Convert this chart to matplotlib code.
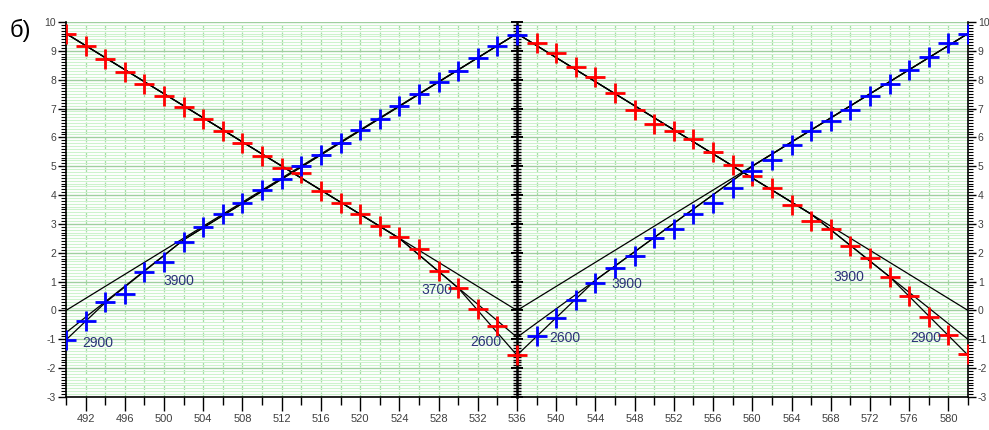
import matplotlib
matplotlib.use("Agg")
import matplotlib.pyplot as plt
from matplotlib.ticker import MultipleLocator, FormatStrFormatter

plt.rcParams["axes.unicode_minus"] = False
NARROW = ["Liberation Sans Narrow", "Liberation Sans", "DejaVu Sans"]

# Measured points: left half (490..536) and right half (538..582)
x_left = [490, 492, 494, 496, 498, 500, 502, 504, 506, 508, 510, 512,
          514, 516, 518, 520, 522, 524, 526, 528, 530, 532, 534, 536]
red_left = [9.58, 9.17, 8.72, 8.27, 7.85, 7.43, 7.05, 6.64, 6.22, 5.81, 5.36, 4.94,
            4.77, 4.14, 3.73, 3.34, 2.93, 2.55, 2.13, 1.37, 0.78, 0.05, -0.54, -1.54]
blue_left = [-1.02, -0.36, 0.29, 0.57, 1.33, 1.68, 2.37, 2.89, 3.34, 3.73, 4.17, 4.56,
             5.00, 5.39, 5.81, 6.26, 6.64, 7.09, 7.50, 7.92, 8.30, 8.75, 9.17, 9.55]

x_right = [538, 540, 542, 544, 546, 548, 550, 552, 554, 556, 558, 560,
           562, 564, 566, 568, 570, 572, 574, 576, 578, 580, 582]
red_right = [9.27, 8.93, 8.44, 8.10, 7.54, 6.95, 6.46, 6.22, 5.94, 5.49, 5.04, 4.65,
             4.25, 3.66, 3.10, 2.83, 2.24, 1.82, 1.16, 0.50, -0.23, -0.85, -1.50]
blue_right = [-0.88, -0.26, 0.36, 0.95, 1.47, 1.89, 2.51, 2.83, 3.34, 3.73, 4.25, 4.85,
              5.22, 5.74, 6.22, 6.57, 6.95, 7.43, 7.85, 8.34, 8.79, 9.27, 9.58]

# Model lines (polyline vertices)
lb1_x, lb1_y = [490, 536], [0.0, 9.6]
lb2_x, lb2_y = [490, 502, 536], [-0.77, 2.45, 9.6]
lb3_x, lb3_y = [490, 494, 502, 536], [-1.02, 0.27, 2.45, 9.6]

lr1_x, lr1_y = [490, 536], [9.6, 0.0]
lr2_x, lr2_y = [490, 524, 536], [9.6, 2.5, -0.93]
lr3_x, lr3_y = [490, 524, 530, 536], [9.6, 2.5, 0.78, -1.55]

rb1_x, rb1_y = [536, 582], [0.0, 9.6]
rb2_x, rb2_y = [536, 560, 582], [-0.93, 5.0, 9.6]
rb3_x, rb3_y = [536, 544, 560, 582], [-1.55, 1.05, 5.0, 9.6]

rr1_x, rr1_y = [536, 582], [9.6, 0.0]
rr2_x, rr2_y = [536, 566, 582], [9.6, 3.34, -1.0]
rr3_x, rr3_y = [536, 566, 574, 582], [9.6, 3.34, 1.17, -1.55]

lines = [(lb1_x, lb1_y), (lb2_x, lb2_y), (lb3_x, lb3_y),
         (lr1_x, lr1_y), (lr2_x, lr2_y), (lr3_x, lr3_y),
         (rb1_x, rb1_y), (rb2_x, rb2_y), (rb3_x, rb3_y),
         (rr1_x, rr1_y), (rr2_x, rr2_y), (rr3_x, rr3_y)]

ann_text = ["2900", "3900", "3700", "2600", "2600", "3900", "3900", "2900"]
ann_x = [491.7, 499.9, 526.3, 531.2, 539.3, 545.6, 568.3, 576.1]
ann_y = [-1.13, 1.02, 0.71, -1.09, -0.95, 0.92, 1.16, -0.95]

X_MIN, X_MAX, X_MID = 490, 582, 536
Y_MIN, Y_MAX = -3, 10

fig = plt.figure(figsize=(9.89, 4.30), dpi=100)
ax = fig.add_axes([66 / 989, 33 / 430, 902 / 989, 375 / 430])
ax.set_xlim(X_MIN, X_MAX)
ax.set_ylim(Y_MIN, Y_MAX)

ax.xaxis.set_major_locator(MultipleLocator(4))
ax.xaxis.set_minor_locator(MultipleLocator(2))
ax.yaxis.set_major_locator(MultipleLocator(1))
ax.yaxis.set_minor_locator(MultipleLocator(0.1))
ax.yaxis.set_major_formatter(FormatStrFormatter("%d"))

ax.grid(which="minor", axis="y", color="#cdf3cd", linewidth=0.8)
ax.grid(which="major", axis="y", color="#9fcf9f", linewidth=1.0)
ax.grid(which="both", axis="x", color="#a6daa6", linewidth=0.9, linestyle=(0, (4, 2)))
ax.set_axisbelow(True)

for xs, ys in lines:
    ax.plot(xs, ys, color="black", linewidth=0.9, zorder=2)

mk = dict(linestyle="none", marker="+", markersize=14, markeredgewidth=2.0, zorder=3)
ax.plot(x_left, red_left, color="#ff0000", **mk)
ax.plot(x_left, blue_left, color="#0000ff", **mk)
ax.plot(x_right, red_right, color="#ff0000", **mk)
ax.plot(x_right, blue_right, color="#0000ff", **mk)

for t, xx, yy in zip(ann_text, ann_x, ann_y):
    ax.text(xx, yy, t, color="#2a3278", fontsize=10, family=NARROW, ha="left", va="center")

ax.spines["top"].set_visible(False)
for s in ("left", "right", "bottom"):
    ax.spines[s].set_color("black")
    ax.spines[s].set_linewidth(1.2)

ax.tick_params(axis="y", which="major", direction="out", length=6, width=1,
               left=True, right=True, labelleft=True, labelright=True,
               labelsize=7.5, labelcolor="#404040", pad=1)
ax.tick_params(axis="y", which="minor", direction="out", length=3.5, width=0.8,
               left=True, right=True)
ax.tick_params(axis="x", which="major", direction="out", length=10, width=1,
               labelsize=8, labelcolor="#404040", pad=2)
ax.tick_params(axis="x", which="minor", direction="out", length=6, width=1)
for lab in ax.get_xticklabels() + ax.get_yticklabels():
    lab.set_family(NARROW)

# Central axis at x = 536, drawn above grid and lines but below the markers
sec = ax.secondary_yaxis(X_MID, transform=ax.transData)
sec.set_zorder(2.6)
sec.yaxis.set_major_locator(MultipleLocator(1))
sec.yaxis.set_minor_locator(MultipleLocator(0.1))
sec.tick_params(which="major", direction="inout", length=9, width=1.4,
                labelleft=False, labelright=False)
sec.tick_params(which="minor", direction="inout", length=5.5, width=1.0)
for sp in sec.spines.values():
    sp.set_color("black")
    sp.set_linewidth(1.8)

fig.text(10 / 989, 1 - 30 / 430, "б)", fontsize=17, family=["Liberation Sans", "DejaVu Sans"],
         ha="left", va="center")

fig.savefig("out.png", dpi=100)
